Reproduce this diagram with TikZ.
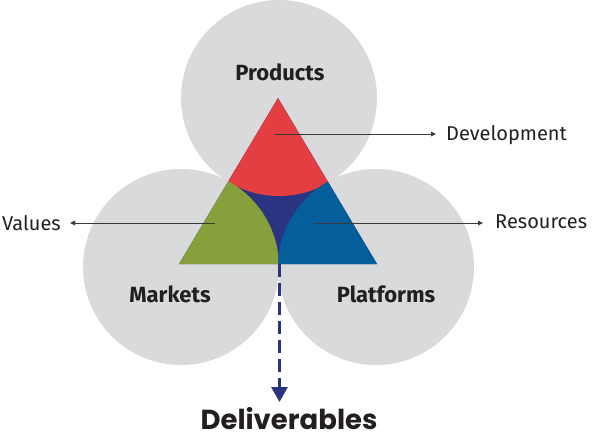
\documentclass[tikz,border=0pt]{standalone}
\usepackage{fontspec}
\setmainfont{Fira Sans}
\newfontfamily\delfont{Poppins}
\usetikzlibrary{arrows.meta}
\definecolor{cgray}{HTML}{D9DADC}
\definecolor{cred}{HTML}{E33F43}
\definecolor{cgreen}{HTML}{87A03C}
\definecolor{cblue}{HTML}{045E9B}
\definecolor{cnavy}{HTML}{2A3480}
\definecolor{ctext}{HTML}{231F20}
\definecolor{carrow}{HTML}{3A3A3A}
\begin{document}
\begin{tikzpicture}[x=1pt,y=-1pt,
  bubble/.style={fill=cgray},
  lab/.style={inner sep=0pt,text=ctext,font=\fontsize{20}{22}\selectfont},
  head/.style={inner sep=0pt,text=ctext,font=\fontsize{22}{24}\selectfont\bfseries},
  thinarrow/.style={draw=carrow,line width=0.9pt,-{Triangle[length=5pt,width=4.5pt]}},
  dasharrow/.style={draw=cnavy,line width=3pt,dash pattern=on 13pt off 6pt,-{Triangle[length=15pt,width=16pt]}}]
\useasboundingbox (0,0) rectangle (593,435);
\coordinate (A) at (278,98);
\coordinate (B) at (179,264);
\coordinate (C) at (377,264);
\coordinate (cA) at (279,98);
\coordinate (cB) at (181,267);
\coordinate (cC) at (376,267);
% grey circles
\fill[bubble] (cA) circle[radius=98pt];
\fill[bubble] (cB) circle[radius=98pt];
\fill[bubble] (cC) circle[radius=98pt];
% triangle
\fill[cnavy] (A) -- (B) -- (C) -- cycle;
\begin{scope}
  \clip (A) -- (B) -- (C) -- cycle;
  \fill[cred] (cA) circle[radius=98pt];
  \fill[cgreen] (cB) circle[radius=98pt];
  \fill[cblue] (cC) circle[radius=98pt];
\end{scope}
% labels
\node[head,anchor=base] (prod) at (280,81) {Products};
\node[head,anchor=base] (mark) at (170,302) {Markets};
\node[head,anchor=base] (plat) at (386,302) {Platforms};
\node[inner sep=0pt,text=ctext,anchor=base,font=\delfont\fontsize{27.5}{30}\selectfont\bfseries] (deliv) at (289,429) {Deliverables};
\node[lab,anchor=base west] (dev) at (446,141) {Development};
\node[lab,anchor=base east] (val) at (61,230) {Values};
\node[lab,anchor=base west] (res) at (495,229) {Resources};
% arrows
\coordinate (devS) at (275,134);
\coordinate (valS) at (215,223);
\coordinate (resS) at (314,223);
\coordinate (delS) at (279.5,264);
\coordinate (delT) at (279.5,402);
\draw[thinarrow] (devS) -- ([xshift=-10pt]dev.west |- devS);
\draw[thinarrow] (valS) -- ([xshift=9pt]val.east |- valS);
\draw[thinarrow] (resS) -- ([xshift=-12pt]res.west |- resS);
\draw[dasharrow] (delS) -- (delT);
\end{tikzpicture}
\end{document}
